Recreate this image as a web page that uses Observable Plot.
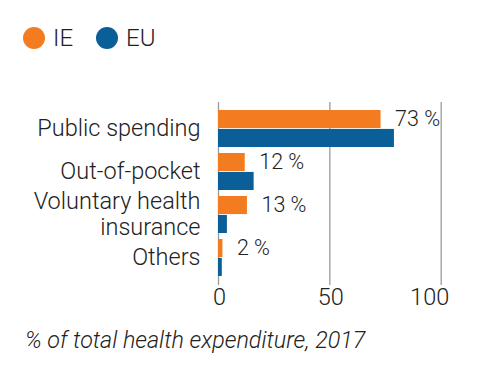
<!DOCTYPE html>
<html>
<head>
<meta charset="utf-8">
<script src="https://cdn.jsdelivr.net/npm/d3@7"></script>
<script src="https://cdn.jsdelivr.net/npm/@observablehq/plot@0.6"></script>
<style>
  html, body { margin: 0; padding: 0; background: #fff; }
  body { width: 495px; height: 379px; overflow: hidden; font-family: Roboto, sans-serif; font-weight: 300; color: #222; }
  #legend { height: 88px; box-sizing: border-box; padding-top: 27px; padding-left: 23px; display: flex; align-items: flex-start; }
  #legend .item { display: flex; align-items: center; height: 22px; line-height: 22px; font-size: 24px; margin-right: 23px; }
  #legend .dot { width: 22px; height: 22px; border-radius: 50%; margin-right: 8px; }
  #caption { font-style: italic; font-size: 23.3px; line-height: 26px; padding-left: 25px; margin-top: 17px; }
  svg { display: block; }
</style>
</head>
<body>
<div id="legend"></div>
<div id="chart"></div>
<div id="caption"></div>
<script>
const categories = ["Public spending", "Out-of-pocket", "Voluntary health insurance", "Others"];
const categoryLabels = ["Public spending", "Out-of-pocket", "Voluntary health\ninsurance", "Others"];
const ieValues = [73, 12, 13, 2];
const euValues = [79, 16, 4, 1.7];
const ieLabels = ["73 %", "12 %", "13 %", "2 %"];
const xTicks = [0, 50, 100];
const seriesNames = ["IE", "EU"];
const seriesColors = ["#f47c20", "#0b5f99"];
const captionText = "% of total health expenditure, 2017";

// legend
const legend = document.getElementById("legend");
seriesNames.forEach((name, i) => {
  const item = document.createElement("div");
  item.className = "item";
  const dot = document.createElement("span");
  dot.className = "dot";
  dot.style.background = seriesColors[i];
  item.appendChild(dot);
  item.appendChild(document.createTextNode(name));
  legend.appendChild(item);
});
document.getElementById("caption").textContent = captionText;

const rows = categories.map((c, i) => ({
  category: c, label: categoryLabels[i], ie: ieValues[i], eu: euValues[i], ieLabel: ieLabels[i]
}));

const W = 495, H = 222, mTop = 14, mBottom = 25, mLeft = 218, mRight = 54.3;
const padIn = 0.134, padOut = 0.16;
const band = d3.scaleBand().domain(categories).range([mTop, H - mBottom]).paddingInner(padIn).paddingOuter(padOut);
const bw = band.bandwidth();
const lastTick = xTicks[xTicks.length - 1];

const chart = Plot.plot({
  width: W, height: H,
  marginTop: mTop, marginBottom: mBottom, marginLeft: mLeft, marginRight: mRight,
  style: { fontFamily: "Roboto, sans-serif", fontWeight: 300, fontSize: "23px", color: "#222", background: "transparent", overflow: "visible" },
  x: { domain: [0, 100], axis: null },
  y: { domain: categories, axis: null, paddingInner: padIn, paddingOuter: padOut },
  marks: [
    Plot.ruleX(xTicks, { stroke: "#9a9a9a", strokeWidth: 1.3 }),
    Plot.text(xTicks.filter(t => t !== lastTick), { x: d => d, text: d => String(d), frameAnchor: "bottom", lineAnchor: "top", dy: 3, dx: 1, fontSize: 23.5, fill: "#222" }),
    Plot.text([lastTick], { x: d => d, text: d => String(d), frameAnchor: "bottom", lineAnchor: "top", textAnchor: "end", dy: 3, dx: 8, fontSize: 23.5, fill: "#222" }),
    Plot.barX(rows, { x: "ie", y: "category", fill: seriesColors[0], insetBottom: bw / 2 }),
    Plot.barX(rows, { x: "eu", y: "category", fill: seriesColors[1], insetTop: bw / 2 }),
    Plot.text(rows, { x: "ie", y: "category", text: "ieLabel", textAnchor: "start", dx: 14, dy: -bw / 4, fontSize: 21.5, fill: "#222" }),
    Plot.text(rows, { y: "category", text: "label", frameAnchor: "left", textAnchor: "end", dx: -18, dy: -1, lineHeight: 1.1, fontSize: 23.5, fill: "#222" })
  ]
});
document.getElementById("chart").appendChild(chart);
</script>
</body>
</html>
